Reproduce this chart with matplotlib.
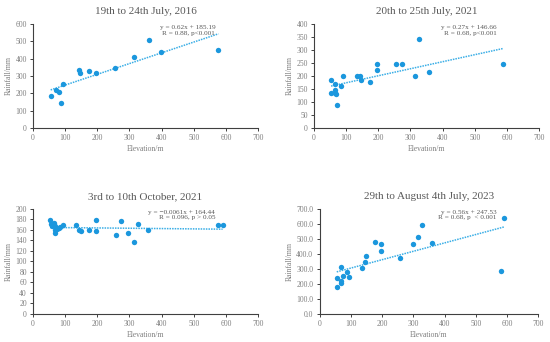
import numpy as np
import matplotlib
matplotlib.use("Agg")
import matplotlib.pyplot as plt

plt.rcParams["font.family"] = ["Liberation Serif", "DejaVu Serif"]

# Panel 1: 19th to 24th July, 2016
elev_2016 = [55, 73, 81, 87, 94, 142, 146, 174, 197, 256, 313, 360, 397, 577]
rain_2016 = [184, 220, 209, 146, 255, 335, 314, 331, 318, 345, 410, 506, 440, 450]

# Panel 2: 20th to 25th July, 2021
elev_jul21 = [53, 53, 65, 65, 66, 67, 72, 85, 91, 135, 142, 146, 173, 195, 196,
              255, 273, 313, 326, 359, 589]
rain_jul21 = [185, 135, 168, 145, 136, 129, 88, 162, 201, 200, 200, 186, 177, 247, 222,
              247, 244, 201, 342, 215, 247]

# Panel 3: 3rd to 10th October, 2021
elev_oct21 = [53, 55, 58, 62, 65, 67, 67, 70, 75, 80, 85, 93, 135, 142, 148, 174,
              196, 197, 257, 273, 297, 313, 328, 359, 576, 590]
rain_oct21 = [178, 170, 166, 170, 172, 166, 154, 160, 162, 164, 165, 168, 168, 159, 158, 160,
              178, 157, 150, 176, 153, 136, 171, 159, 169, 169]

# Panel 4: 29th to August 4th July, 2023
elev_2023 = [55, 56, 67, 67, 68, 75, 87, 95, 136, 144, 148, 176, 198, 198, 258,
             298, 316, 329, 361, 581, 591]
rain_2023 = [180, 235, 313, 220, 205, 253, 275, 244, 306, 341, 383, 475, 462, 418, 370,
             464, 511, 594, 473, 282, 636]

titles = ["19th to 24th July, 2016", "20th to 25th July, 2021",
          "3rd to 10th October, 2021", "29th to August 4th July, 2023"]
fits = [(0.62, 185.19), (0.27, 146.66), (-0.0061, 164.44), (0.56, 247.53)]
eq_text = ["y = 0.62x + 185.19\nR = 0.88, p<0.001",
           "y = 0.27x + 146.66\nR = 0.68, p<0.001",
           "y = \u22120.0061x + 164.44\nR = 0.096, p > 0.05",
           "y = 0.56x + 247.53\nR = 0.68, p  < 0.001"]
ylims = [(0, 600, 100), (0, 400, 50), (0, 200, 20), (0, 700, 100)]
yfmt = ["{:.0f}", "{:.0f}", "{:.0f}", "{:.1f}"]

data = [(elev_2016, rain_2016), (elev_jul21, rain_jul21),
        (elev_oct21, rain_oct21), (elev_2023, rain_2023)]

positions = [[0.060, 0.626, 0.409, 0.304],
             [0.571, 0.626, 0.409, 0.304],
             [0.060, 0.083, 0.409, 0.307],
             [0.581, 0.083, 0.398, 0.307]]

text_col = "#7f7f7f"
dot_col = "#1b97dd"
line_col = "#3aaee6"

fig = plt.figure(figsize=(5.5, 3.42), dpi=100)

for i in range(4):
    ax = fig.add_axes(positions[i])
    x, y = data[i]
    ax.scatter(x, y, s=15, color=dot_col, zorder=3, linewidths=0)
    a, b = fits[i]
    xs = np.array([min(x), max(x)])
    ax.plot(xs, a * xs + b, linestyle=(0, (1, 0.7)), color=line_col, lw=1.1, zorder=2)

    lo, hi, step = ylims[i]
    ax.set_ylim(lo, hi)
    ax.set_xlim(0, 700)
    ax.set_xticks(range(0, 701, 100))
    yt = np.arange(lo, hi + step / 2, step)
    ax.set_yticks(yt)
    ax.set_yticklabels([yfmt[i].format(v) for v in yt])

    for s in ["top", "right"]:
        ax.spines[s].set_visible(False)
    for s in ["left", "bottom"]:
        ax.spines[s].set_color("#404040")
        ax.spines[s].set_linewidth(0.8)
    ax.tick_params(labelsize=5.5, colors="#404040", labelcolor=text_col,
                   length=2.5, width=0.7, direction="out", pad=2)

    ax.set_xlabel("Elevation/m", fontsize=5.5, color=text_col, labelpad=2)
    ax.set_ylabel("Rainfall/mm", fontsize=5.5, color=text_col, labelpad=2)
    ax.set_title(titles[i], fontsize=8, color="#595959", pad=7)

    ax.text(0.81, 0.99, eq_text[i], transform=ax.transAxes, ha="right", va="top",
            fontsize=5.2, color="#595959", linespacing=1.2, multialignment="right")

fig.savefig("out.png", dpi=100)
